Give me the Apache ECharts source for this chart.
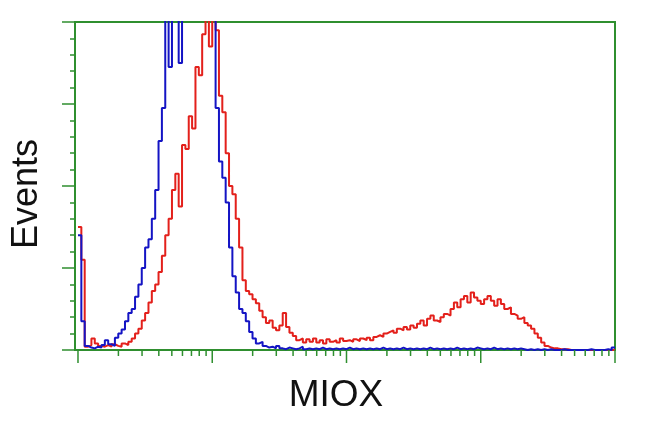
<!DOCTYPE html>
<html>
<head>
<meta charset="utf-8">
<script src="https://cdn.jsdelivr.net/npm/echarts@6/dist/echarts.min.js"></script>
<style>
html,body{margin:0;padding:0;background:#fff;}
#chart{width:650px;height:432px;}
</style>
</head>
<body>
<div id="chart"></div>
<script>
// Histogram bins: bin i starts at 10^(i*binStep) on the log fluorescence axis
var binStep = 0.025;
var blueCounts = [
140,35,5,3,2,4,3,6,12,7,
5,15,20,25,35,45,50,65,80,100,
125,135,160,195,255,295,420,345,460,450,
350,470,500,480,520,490,510,530,500,480,
460,295,230,210,180,125,90,70,50,45,
35,22,14,8,10,5,3,4,2,5,
2,1,3,2,1,2,4,1,2,1,
2,1,3,1,2,1,2,1,2,1,
3,1,2,1,2,1,2,1,2,1,
3,1,2,1,2,1,3,1,2,1,
2,1,2,1,3,1,2,1,2,1,
2,1,3,1,2,1,2,1,3,2,
1,2,1,3,1,2,1,2,1,2,
1,2,1,0,1,0,1,0,1,0,
1,0,0,0,1,0,0,0,0,0,
0,0,1,0,0,0,0,1,0,3
];
var redCounts = [
150,110,4,6,14,8,5,4,6,4,
7,5,4,8,6,10,14,20,26,36,
45,58,72,80,95,115,140,160,195,215,
175,250,245,285,270,345,335,385,420,370,
430,390,310,290,240,200,190,160,125,85,
72,68,62,57,48,40,33,36,27,24,
30,45,28,21,17,12,14,9,13,10,
14,9,12,8,13,10,12,9,14,11,
12,10,13,11,14,12,15,12,16,18,
16,20,22,24,21,26,24,28,25,30,
27,32,36,30,38,42,36,34,40,44,
42,50,58,52,62,66,58,70,64,60,
56,62,66,60,54,62,56,50,52,44,
42,38,40,33,30,26,20,15,9,5,
3,2,2,1,1,1,0,0,0,0,
0,0,0,0,0,0,0,0,0,0
];
var xTickValues = [1,2,3,4,5,6,7,8,9,10,20,30,40,50,60,70,80,90,100,200,300,400,500,600,700,800,900,1000,2000,3000,4000,5000,6000,7000,8000,9000,10000];
var majorTickValues = [1,10,100,1000,10000];
var xAxisTitle = 'MIOX';
var yAxisTitle = 'Events';

var GREEN = '#2f8f2f';
function toPairs(counts){
  var out = [];
  for (var i = 0; i < counts.length; i++) out.push([Math.pow(10, i*binStep), counts[i]]);
  out.push([Math.pow(10, counts.length*binStep), counts[counts.length-1]]);
  return out;
}
var tickData = xTickValues.map(function(v){ return [v, majorTickValues.indexOf(v) >= 0 ? 1 : 0]; });

var chart = echarts.init(document.getElementById('chart'), null, {renderer:'canvas'});
chart.setOption({
  animation:false,
  backgroundColor:'#ffffff',
  grid:{left:75, right:35, top:22, bottom:82, show:true, borderColor:GREEN, borderWidth:2, backgroundColor:'transparent'},
  xAxis:{type:'log', logBase:10, min:0.95, max:10000,
    axisLine:{show:true, lineStyle:{color:GREEN, width:2}},
    axisTick:{show:false}, axisLabel:{show:false}, splitLine:{show:false}, minorTick:{show:false}},
  yAxis:{type:'value', min:0, max:400, interval:100,
    axisLine:{show:true, lineStyle:{color:GREEN, width:2}},
    axisTick:{show:true, length:13, lineStyle:{color:GREEN, width:1.5}},
    minorTick:{show:true, splitNumber:5, length:5, lineStyle:{color:GREEN, width:1.5}},
    axisLabel:{show:false}, splitLine:{show:false}},
  graphic:[
    {type:'text', x:27, y:194, rotation:Math.PI/2, style:{text:yAxisTitle, font:'36px "Liberation Sans", Arial, sans-serif', fill:'#111', textAlign:'center', textVerticalAlign:'middle'}},
    {type:'text', x:336, y:396, style:{text:xAxisTitle, font:'37px "Liberation Sans", Arial, sans-serif', fill:'#111', textAlign:'center', textVerticalAlign:'middle'}}
  ],
  series:[
    {type:'line', name:'red', data:toPairs(redCounts), step:'end', showSymbol:false, symbol:'none', clip:true,
      lineStyle:{color:'#e3201b', width:2}, z:2},
    {type:'line', name:'blue', data:toPairs(blueCounts), step:'end', showSymbol:false, symbol:'none', clip:true,
      lineStyle:{color:'#1414c4', width:2}, z:3},
    {type:'custom', name:'xticks', data:tickData, clip:false, z:5,
      encode:{x:0, y:1},
      renderItem:function(params, api){
        var p = api.coord([api.value(0), 0]);
        var len = api.value(1) ? 13 : 6;
        return {type:'line', shape:{x1:p[0], y1:p[1], x2:p[0], y2:p[1]+len}, style:{stroke:GREEN, lineWidth:1.5}};
      }}
  ]
});
</script>
</body>
</html>
